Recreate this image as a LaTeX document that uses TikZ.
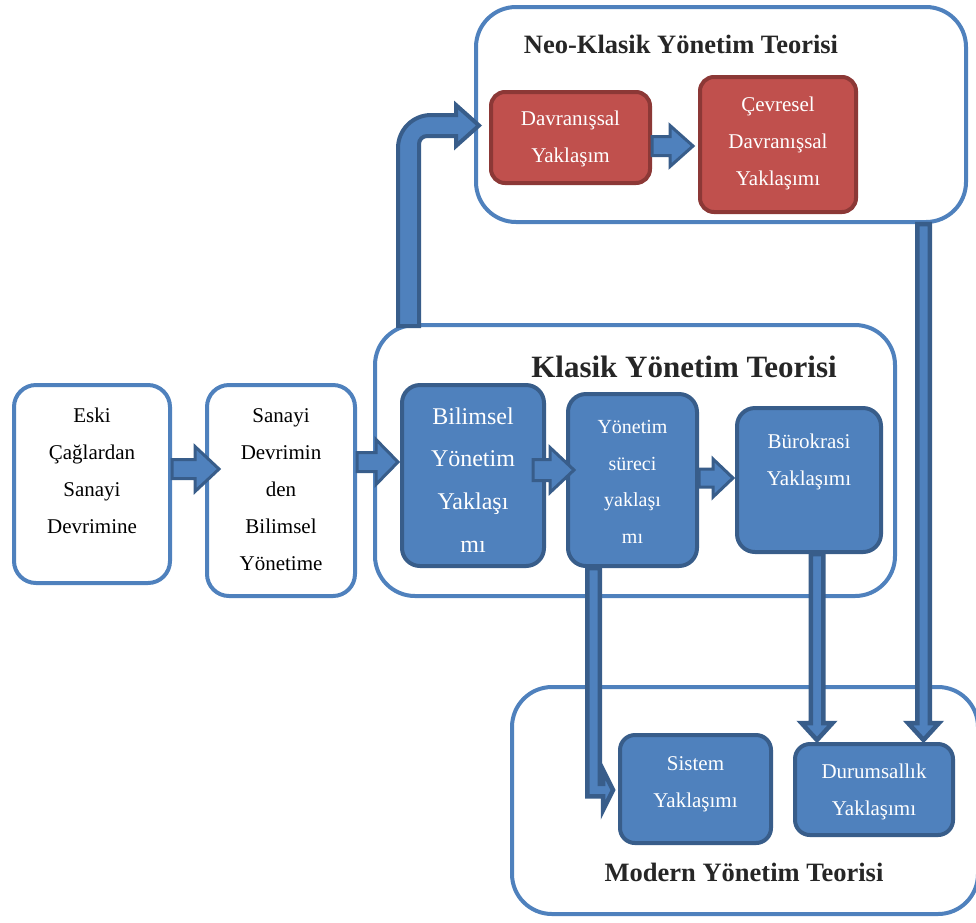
\documentclass[tikz,border=0pt]{standalone}
\usepackage{fontspec}
\setmainfont{Liberation Serif}
\usetikzlibrary{calc}
\definecolor{accent}{HTML}{4F81BD}
\definecolor{accentdark}{HTML}{385D8A}
\definecolor{redfill}{HTML}{C0504D}
\definecolor{reddark}{HTML}{8C3836}
\definecolor{titlegray}{HTML}{262626}
\tikzset{
 container/.style={draw=accent, line width=4pt, rounded corners=40pt, fill=white, inner sep=0pt},
 wbox/.style={draw=accent, line width=4pt, rounded corners=22pt, fill=white, inner sep=0pt},
 bbox/.style={draw=accentdark, line width=4pt, rounded corners=18pt, fill=accent, inner sep=0pt},
 rbox/.style={draw=reddark, line width=4pt, rounded corners=14pt, fill=redfill, inner sep=0pt},
 btxt/.style={text=black, align=center, inner sep=0pt, font=\fontsize{21}{37}\selectfont},
 wtxt/.style={text=white, align=center, inner sep=0pt, font=\fontsize{21}{37}\selectfont},
 wtxtbig/.style={text=white, align=center, inner sep=0pt, font=\fontsize{24}{42.7}\selectfont},
 titletxt/.style={text=titlegray, inner sep=0pt, font=\bfseries\fontsize{26.5}{30}\selectfont},
 titlebig/.style={text=titlegray, inner sep=0pt, font=\bfseries\fontsize{31}{34}\selectfont},
 barrow/.style={fill=accent, draw=accentdark, line width=3pt, line join=miter},
 tarrow/.style={fill=accent, draw=accentdark, line width=4.5pt, line join=miter},
 karrow/.style={fill=accent, draw=accentdark, line width=4pt, line join=miter},
}
% horizontal block arrow: start, tip, shaft half, head half, head length, style
\newcommand\harrow[6]{\draw[#6] let \p1=#1, \p2=#2 in
 (\x1,\y2+#3pt) -- (\x2-#5pt,\y2+#3pt) -- (\x2-#5pt,\y2+#4pt) -- (\x2,\y2)
 -- (\x2-#5pt,\y2-#4pt) -- (\x2-#5pt,\y2-#3pt) -- (\x1,\y2-#3pt) -- cycle;}
% vertical (downward) block arrow
\newcommand\varrow[6]{\draw[#6] let \p1=#1, \p2=#2 in
 (\x2-#3pt,\y1) -- (\x2-#3pt,\y2+#5pt) -- (\x2-#4pt,\y2+#5pt) -- (\x2,\y2)
 -- (\x2+#4pt,\y2+#5pt) -- (\x2+#3pt,\y2+#5pt) -- (\x2+#3pt,\y1) -- cycle;}
% down then right block arrow
\newcommand\larrow[6]{\draw[#6] let \p1=#1, \p2=#2 in
 (\x1-#3pt,\y1) -- (\x1-#3pt,\y2-#3pt) -- (\x2-#5pt,\y2-#3pt) -- (\x2-#5pt,\y2-#4pt) -- (\x2,\y2)
 -- (\x2-#5pt,\y2+#4pt) -- (\x2-#5pt,\y2+#3pt) -- (\x1+#3pt,\y2+#3pt) -- (\x1+#3pt,\y1) -- cycle;}
% up then right block arrow with rounded bend: start, tip, sh, hh, hl, R, r, style
\newcommand\uarrow[8]{\draw[#8] let \p1=#1, \p2=#2 in
 (\x1-#3pt,\y1) -- (\x1-#3pt,\y2+#3pt-#6pt)
 .. controls (\x1-#3pt,\y2+#3pt-0.448*#6pt) and (\x1-#3pt+0.448*#6pt,\y2+#3pt) .. (\x1-#3pt+#6pt,\y2+#3pt)
 -- (\x2-#5pt,\y2+#3pt) -- (\x2-#5pt,\y2+#4pt) -- (\x2,\y2) -- (\x2-#5pt,\y2-#4pt) -- (\x2-#5pt,\y2-#3pt)
 -- (\x1+#3pt+#7pt,\y2-#3pt)
 .. controls (\x1+#3pt+0.448*#7pt,\y2-#3pt) and (\x1+#3pt,\y2-#3pt-0.448*#7pt) .. (\x1+#3pt,\y2-#3pt-#7pt)
 -- (\x1+#3pt,\y1) -- cycle;}
\begin{document}
\begin{tikzpicture}[x=1pt,y=-1pt]
\useasboundingbox (0,0) rectangle (976,922);
% containers
\node[container, minimum width=490pt, minimum height=215pt] (neo) at (721,114.5) {};
\node[container, minimum width=520pt, minimum height=271pt] (klasik) at (635,460.5) {};
\node[container, minimum width=466pt, minimum height=227pt] (modern) at (745,800.5) {};
\node[titletxt] (neoT) at (681,44) {Neo-Klasik Yönetim Teorisi};
\node[titlebig] (klasikT) at (684,367) {Klasik Yönetim Teorisi};
\node[titletxt] (modernT) at (744,872) {Modern Yönetim Teorisi};
% boxes
\node[wbox, minimum width=156pt, minimum height=198pt] (eski) at (92,484) {};
\node[btxt] at (92,471) {Eski\\Çağlardan\\Sanayi\\Devrimine};
\node[wbox, minimum width=148pt, minimum height=211pt] (sanayi) at (281,490.5) {};
\node[btxt] at (281,489.5) {Sanayi\\Devrimin\\den\\Bilimsel\\Yönetime};
\node[bbox, minimum width=142pt, minimum height=181pt] (bilimsel) at (473,475.5) {};
\node[wtxtbig] at (473,480) {Bilimsel\\Yönetim\\Yaklaşı\\mı};
\node[bbox, minimum width=129pt, minimum height=172pt] (surec) at (632.5,480) {};
\node[wtxt, font=\fontsize{20}{36.7}\selectfont] at (632.5,482) {Yönetim\\süreci\\yaklaşı\\mı};
\node[bbox, minimum width=144pt, minimum height=144pt] (burok) at (809,480) {};
\node[wtxt] at (809,461.5) {Bürokrasi\\Yaklaşımı};
\node[rbox, minimum width=159pt, minimum height=91pt] (davranis) at (570.5,137.5) {};
\node[wtxt] at (570.5,139) {Davranışsal\\Yaklaşım};
\node[rbox, minimum width=156pt, minimum height=135pt] (cevresel) at (778,144.5) {};
\node[wtxt] at (778,143) {Çevresel\\Davranışsal\\Yaklaşımı};
\node[bbox, rounded corners=15pt, minimum width=151pt, minimum height=108pt] (sistem) at (695.5,789) {};
\node[wtxt] at (695.5,784) {Sistem\\Yaklaşımı};
\node[bbox, rounded corners=15pt, minimum width=158pt, minimum height=91pt] (durum) at (874,789.5) {};
\node[wtxt] at (874,791.5) {Durumsallık\\Yaklaşımı};
% connectors
\harrow{(eski.east)}{($(sanayi.west)+(14,-21.5)$)}{9.5}{22.5}{24}{barrow}
\harrow{(sanayi.east)}{($(bilimsel.west)+(-2,-13.5)$)}{9.5}{22.5}{22}{barrow}
\harrow{($(bilimsel.east)+(-13,0)$)}{($(surec.west)+(8,-10)$)}{10.5}{22.5}{24}{barrow}
\harrow{(surec.east)}{($(burok.west)+(-2,-2)$)}{9}{19}{20}{barrow}
\harrow{(davranis.east)}{($(cevresel.west)+(-5,1.5)$)}{9.5}{20.5}{23}{barrow}
\uarrow{($(klasik.north west)+(35.5,3)$)}{($(davranis.west)+(-10,-12)$)}{10.5}{20.5}{23}{33}{8}{karrow}
\larrow{($(surec.south)+(-39,0)$)}{($(sistem.west)+(-5,1)$)}{6.25}{20}{10}{tarrow}
\varrow{($(burok.south)+(8,0)$)}{($(durum.north)+(-57,-2)$)}{6.25}{15.5}{17}{tarrow}
\varrow{($(neo.south)+(202.5,0)$)}{($(durum.north)+(49.5,-2)$)}{6.25}{15.5}{17}{tarrow}
\end{tikzpicture}
\end{document}
